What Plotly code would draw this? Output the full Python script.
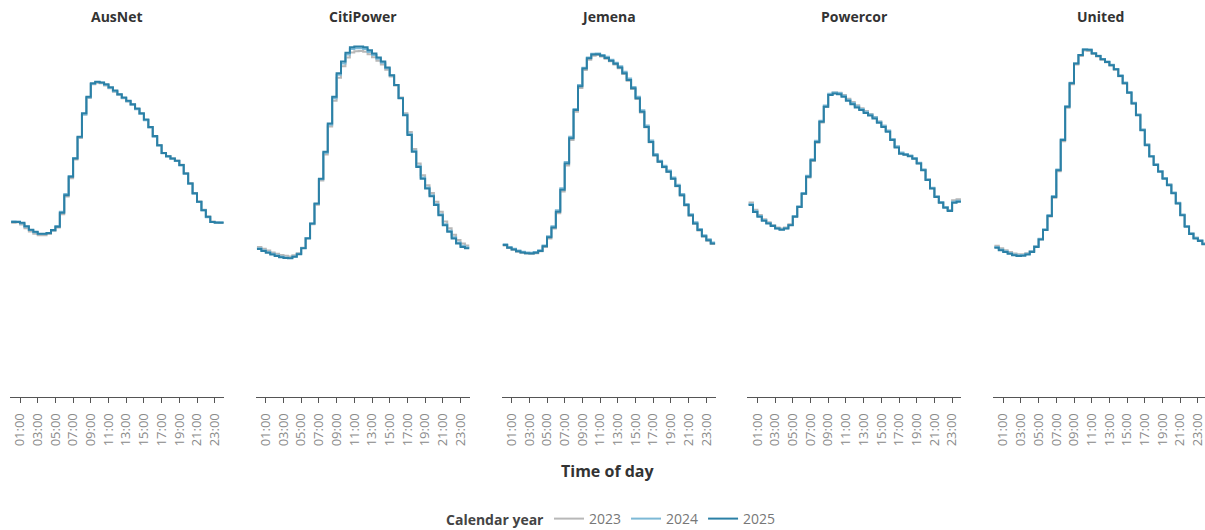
import plotly.graph_objects as go

# ---------------- data ----------------
NETWORKS = ["AusNet", "CitiPower", "Jemena", "Powercor", "United"]
YEARS = ["2023", "2024", "2025"]
YEAR_COLORS = {"2023": "#b8b8b8", "2024": "#7db9d6", "2025": "#2b80a6"}

# half-hour slot start, in hours
SLOTS = [0.0, 0.5, 1.0, 1.5, 2.0, 2.5, 3.0, 3.5, 4.0, 4.5, 5.0, 5.5,
         6.0, 6.5, 7.0, 7.5, 8.0, 8.5, 9.0, 9.5, 10.0, 10.5, 11.0, 11.5,
         12.0, 12.5, 13.0, 13.5, 14.0, 14.5, 15.0, 15.5, 16.0, 16.5, 17.0, 17.5,
         18.0, 18.5, 19.0, 19.5, 20.0, 20.5, 21.0, 21.5, 22.0, 22.5, 23.0, 23.5]
TICK_VALS = [1, 3, 5, 7, 9, 11, 13, 15, 17, 19, 21, 23]
TICK_TEXT = ["01:00", "03:00", "05:00", "07:00", "09:00", "11:00",
             "13:00", "15:00", "17:00", "19:00", "21:00", "23:00"]

ausnet_2023 = [47.5,47.6,47.0,46.0,45.1,44.5,44.1,44.1,44.4,45.2,46.2,49.8,54.6,59.6,64.7,70.6,77.0,81.5,85.2,85.6,85.5,84.9,84.1,83.2,82.3,81.4,80.5,79.6,78.5,77.2,75.5,73.5,71.0,68.6,66.5,65.6,65.0,64.4,63.3,61.0,58.3,55.6,53.3,51.0,49.2,47.8,47.6,47.5]
ausnet_2024 = [47.9,47.8,47.3,46.4,45.5,44.9,44.4,44.4,44.6,45.4,46.6,50.5,55.3,60.2,65.1,70.8,77.0,81.6,85.3,85.8,85.6,85.0,84.2,83.3,82.4,81.5,80.6,79.6,78.4,77.1,75.4,73.4,70.9,68.5,66.4,65.5,64.9,64.3,63.1,60.8,58.1,55.4,53.1,50.9,49.0,47.7,47.6,47.6]
ausnet_2025 = [47.7,47.7,47.5,46.5,45.6,45.0,44.5,44.5,44.7,45.5,46.4,50.2,55.0,60.0,65.0,70.9,77.3,81.8,85.5,85.9,85.7,85.2,84.4,83.5,82.5,81.6,80.7,79.8,78.6,77.3,75.6,73.6,71.1,68.6,66.5,65.6,65.0,64.4,63.2,60.9,58.2,55.5,53.2,50.9,49.1,47.7,47.5,47.5]

citipower_2023 = [40.9,40.4,39.9,39.4,39.0,38.7,38.5,38.3,38.6,39.2,40.7,43.3,47.1,52.4,59.0,66.1,73.7,80.7,87.0,90.1,92.5,93.9,94.2,94.3,94.1,93.4,92.6,91.6,90.6,89.2,87.3,84.9,81.6,77.3,72.2,67.6,63.6,60.4,57.7,55.6,53.2,50.5,47.8,46.0,44.2,42.8,41.8,41.3]
citipower_2024 = [40.5,40.0,39.5,39.0,38.6,38.3,38.0,37.9,38.3,39.0,40.6,43.3,47.2,52.6,59.3,66.5,74.2,81.4,87.8,90.9,93.3,94.8,95.0,95.0,94.8,94.0,93.2,92.2,91.1,89.6,87.6,85.0,81.5,77.0,71.7,67.1,63.0,59.8,57.1,55.0,52.6,49.8,47.1,45.3,43.5,42.1,41.2,40.8]
citipower_2025 = [40.3,39.8,39.3,38.8,38.4,38.1,37.9,37.8,38.2,38.9,40.5,43.2,47.3,52.7,59.5,66.8,74.5,81.8,88.2,91.4,93.8,95.3,95.5,95.5,95.3,94.5,93.6,92.5,91.4,89.8,87.7,85.0,81.4,76.8,71.4,66.8,62.7,59.5,56.8,54.7,52.3,49.5,46.8,45.0,43.2,41.8,40.9,40.5]

jemena_2023 = [41.3,40.6,40.1,39.6,39.3,39.1,39.0,39.2,39.7,40.9,43.2,45.9,50.1,56.0,63.1,70.0,77.7,84.2,89.1,91.9,93.0,93.2,92.8,92.2,91.5,90.6,89.6,88.0,86.2,83.9,81.2,77.5,73.5,69.4,65.8,64.0,62.6,61.3,59.4,57.4,54.9,52.2,49.4,47.2,45.4,43.7,42.6,41.7]
jemena_2024 = [41.6,40.9,40.4,39.9,39.6,39.4,39.3,39.5,40.0,41.3,43.8,46.5,50.9,56.9,64.0,70.9,78.5,85.0,89.7,92.5,93.5,93.6,93.2,92.7,91.9,91.1,90.1,88.6,86.8,84.5,81.8,78.1,74.0,69.9,66.2,64.4,63.0,61.7,59.8,57.8,55.3,52.6,49.8,47.6,45.8,44.1,43.0,42.1]
jemena_2025 = [41.4,40.7,40.2,39.7,39.4,39.2,39.1,39.3,39.8,41.1,43.5,46.2,50.5,56.5,63.6,70.5,78.2,84.7,89.5,92.3,93.3,93.4,93.0,92.4,91.6,90.8,89.8,88.2,86.4,84.1,81.4,77.7,73.6,69.5,65.9,64.1,62.7,61.4,59.5,57.5,55.0,52.3,49.5,47.3,45.5,43.8,42.7,41.8]

powercor_2023 = [53.0,51.0,49.6,48.4,47.6,46.9,46.2,45.9,46.2,47.1,49.2,51.8,55.3,59.8,64.3,69.3,74.8,79.0,82.4,83.0,82.9,82.3,81.3,80.4,79.5,78.7,77.9,77.1,76.3,75.1,73.9,72.5,70.2,68.1,66.4,66.1,65.7,65.0,63.7,61.9,59.2,56.9,54.6,53.0,51.8,50.9,53.6,53.9]
powercor_2024 = [52.6,50.7,49.3,48.2,47.4,46.7,46.0,45.7,46.0,46.9,49.3,52.0,55.6,60.3,64.8,69.8,75.3,79.4,82.6,83.0,82.8,82.1,81.0,80.1,79.2,78.5,77.7,77.0,76.2,75.0,73.9,72.6,70.3,68.3,66.6,66.2,65.8,65.1,63.8,62.0,59.3,57.0,54.7,53.1,51.8,50.9,53.2,53.5]
powercor_2025 = [52.3,50.4,49.1,48.0,47.3,46.6,45.9,45.6,45.9,46.8,49.1,51.8,55.4,60.0,64.5,69.5,75.0,79.1,82.3,82.7,82.5,81.8,80.7,79.8,78.9,78.2,77.4,76.7,75.9,74.7,73.6,72.3,70.0,68.0,66.3,66.0,65.6,64.9,63.6,61.8,59.1,56.8,54.5,52.9,51.6,50.7,52.9,53.2]

united_2023 = [41.2,40.5,40.0,39.5,39.1,38.9,38.9,39.2,39.8,41.1,43.0,45.5,49.2,54.3,61.5,69.7,78.8,85.2,90.6,92.9,94.4,94.3,93.5,92.8,91.9,91.2,90.3,89.2,87.4,85.4,82.9,80.0,76.9,72.8,68.8,65.7,63.4,61.6,59.7,57.9,55.6,52.8,49.6,46.6,44.6,43.4,42.7,41.8]
united_2024 = [40.9,40.2,39.7,39.2,38.8,38.6,38.7,39.0,39.7,41.1,43.1,45.7,49.6,54.8,62.0,70.2,79.2,85.6,90.9,93.2,94.7,94.6,93.7,93.0,92.1,91.4,90.5,89.4,87.7,85.7,83.1,80.2,77.0,72.9,68.8,65.7,63.4,61.6,59.7,57.9,55.7,52.9,49.7,46.6,44.6,43.4,42.7,41.8]
united_2025 = [40.7,40.0,39.5,39.0,38.6,38.4,38.5,38.8,39.5,40.9,42.9,45.5,49.3,54.5,61.8,70.0,79.1,85.5,90.9,93.2,94.7,94.6,93.6,92.9,92.0,91.3,90.4,89.3,87.5,85.5,82.9,80.0,76.8,72.7,68.6,65.5,63.2,61.4,59.5,57.7,55.5,52.7,49.5,46.4,44.4,43.2,42.5,41.6]

SERIES = {
    "AusNet": {"2023": ausnet_2023, "2024": ausnet_2024, "2025": ausnet_2025},
    "CitiPower": {"2023": citipower_2023, "2024": citipower_2024, "2025": citipower_2025},
    "Jemena": {"2023": jemena_2023, "2024": jemena_2024, "2025": jemena_2025},
    "Powercor": {"2023": powercor_2023, "2024": powercor_2024, "2025": powercor_2025},
    "United": {"2023": united_2023, "2024": united_2024, "2025": united_2025},
}

# ---------------- layout geometry ----------------
W, H = 1205, 530
ML, MR, MT, MB = 10, 0, 30, 133
PW = W - ML - MR
PH = H - MT - MB
PANEL_W = 214.0
PITCH = 245.8
PX_PER_HOUR = 8.85
X0 = -0.13


def px_x(px):
    return (px - ML) / PW


def px_y(py):
    return (MT + PH - py) / PH


FONT = "Open Sans"
fig = go.Figure()

for k, net in enumerate(NETWORKS):
    xa = "x" if k == 0 else f"x{k+1}"
    ya = "y" if k == 0 else f"y{k+1}"
    for yr in YEARS:
        vals = SERIES[net][yr]
        fig.add_trace(go.Scatter(
            x=SLOTS + [24.0], y=vals + [vals[-1]],
            mode="lines", line=dict(color=YEAR_COLORS[yr], width=2, shape="hv"),
            name=yr, legendgroup=yr, showlegend=(k == 0),
            xaxis=xa, yaxis=ya, hoverinfo="skip",
        ))
    start = PITCH * k
    end = min(start + PANEL_W, PW)
    width_px = end - start
    xkey = "xaxis" if k == 0 else f"xaxis{k+1}"
    ykey = "yaxis" if k == 0 else f"yaxis{k+1}"
    fig.layout[xkey] = dict(
        domain=[start / PW, end / PW], anchor=ya,
        range=[X0, X0 + width_px / PX_PER_HOUR],
        tickmode="array", tickvals=TICK_VALS, ticktext=TICK_TEXT, tickangle=-90,
        ticks="outside", ticklen=5, tickcolor="#555", tickwidth=1,
        ticklabelstandoff=5, ticklabeloverflow="allow",
        showline=True, linecolor="#555", linewidth=1,
        showgrid=False, zeroline=False, fixedrange=True,
        tickfont=dict(family=FONT, size=13, color="#8a8a8a"),
    )
    fig.layout[ykey] = dict(domain=[0, 1], anchor=xa, range=[0, 100], visible=False,
                            showgrid=False, zeroline=False, fixedrange=True)
    center_px = ML + start + PANEL_W / 2
    fig.add_annotation(
        x=px_x(center_px), y=px_y(16),
        xref="paper", yref="paper", text=f"<b>{net}</b>", showarrow=False,
        xanchor="center", yanchor="middle",
        font=dict(family=FONT, size=14, color="#333333"),
    )

fig.add_annotation(
    x=px_x(608), y=px_y(471), xref="paper", yref="paper",
    text="<b>Time of day</b>", showarrow=False, xanchor="center", yanchor="middle",
    font=dict(family=FONT, size=16, color="#333333"),
)

# legend title placed beside the legend items
fig.add_annotation(
    x=px_x(546), y=px_y(519), xref="paper", yref="paper",
    text="<b>Calendar year</b>", showarrow=False, xanchor="right", yanchor="middle",
    font=dict(family=FONT, size=14, color="#444444"),
)

fig.update_layout(
    width=W, height=H, autosize=False,
    margin=dict(l=ML, r=MR, t=MT, b=MB, autoexpand=False),
    paper_bgcolor="white", plot_bgcolor="white",
    font=dict(family=FONT),
    legend=dict(
        orientation="h", x=px_x(665), xanchor="center",
        y=px_y(519), yanchor="middle",
        font=dict(family=FONT, size=14, color="#777777"),
        itemwidth=30,
    ),
)

fig.write_html(
    "out.html",
    config={"displayModeBar": False, "staticPlot": True, "responsive": False},
    post_script="document.body.style.margin='0px';document.body.style.overflow='hidden';",
)
